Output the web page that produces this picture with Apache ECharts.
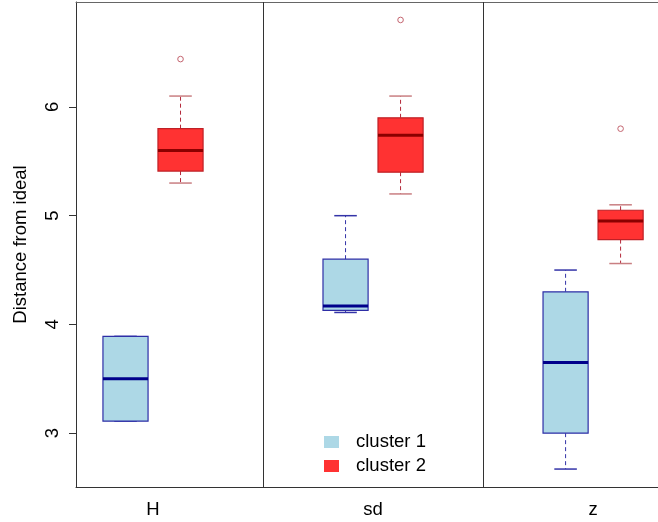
<!DOCTYPE html>
<html>
<head>
<meta charset="utf-8">
<script src="https://cdn.jsdelivr.net/npm/echarts@6/dist/echarts.min.js"></script>
<style>
  html, body { margin: 0; padding: 0; background: #fff; }
  #chart { width: 658px; height: 522px; }
</style>
</head>
<body>
<div id="chart"></div>
<script>
// Measures, one group per measure
const groups = ['H', 'sd', 'z'];
const seriesNames = ['cluster 1', 'cluster 2'];

// Five-number summaries per group: [lower whisker, Q1, median, Q3, upper whisker]
const cluster1Stats = [
  [3.11, 3.11, 3.50, 3.89, 3.89],
  [4.11, 4.13, 4.17, 4.60, 5.00],
  [2.67, 3.00, 3.65, 4.30, 4.50]
];
const cluster2Stats = [
  [5.30, 5.41, 5.60, 5.80, 6.10],
  [5.20, 5.40, 5.74, 5.90, 6.10],
  [4.56, 4.78, 4.95, 5.05, 5.10]
];
// Outlying points of cluster 2, one per group
const cluster2Outliers = [6.44, 6.80, 5.80];

const yTicks = [3, 4, 5, 6];
const yMin = 2.505, yMax = 6.965;
// visible part of the x range (the plot continues past the right edge)
const xMin = 0.1, xMax = 10.68;

// Layout on the x axis: two boxes per group, groups four units apart
const groupStep = 4;
const xPos = (g, s) => 1 + s + g * groupStep;
const groupCenters = groups.map((_, g) => 1.5 + g * groupStep);
const separators = groups.slice(1).map((_, g) => 3.5 + g * groupStep);

const FONT = 'Liberation Sans, Arial, sans-serif';
const FS = 18.5;

const styles = [
  { fill: '#ADD8E6', border: '#2E2EA6', median: '#00008B', whisker: '#3434A8', staple: '#3434A8' },
  { fill: '#FF3232', border: '#BF2026', median: '#8B0000', whisker: '#B4283A', staple: '#C97F82' }
];
const outlierColor = '#C4646F';

function makeRender(s) {
  const st = styles[s];
  return function (params, api) {
    const x = api.value(0);
    const lo = api.value(1), q1 = api.value(2), md = api.value(3), q3 = api.value(4), hi = api.value(5);
    const half = api.size([0.82, 0])[0] / 2;
    const stapleHalf = half / 2;
    const pLo = api.coord([x, lo]), pQ1 = api.coord([x, q1]), pMd = api.coord([x, md]);
    const pQ3 = api.coord([x, q3]), pHi = api.coord([x, hi]);
    const cx = pMd[0];
    const children = [];
    // whiskers (dashed)
    children.push({ type: 'line', shape: { x1: cx, y1: pQ3[1], x2: cx, y2: pHi[1] },
      style: { stroke: st.whisker, lineWidth: 1, lineDash: [4, 3] } });
    children.push({ type: 'line', shape: { x1: cx, y1: pQ1[1], x2: cx, y2: pLo[1] },
      style: { stroke: st.whisker, lineWidth: 1, lineDash: [4, 3] } });
    // staples
    children.push({ type: 'line', shape: { x1: cx - stapleHalf, y1: pHi[1], x2: cx + stapleHalf, y2: pHi[1] },
      style: { stroke: st.staple, lineWidth: 1.5 } });
    children.push({ type: 'line', shape: { x1: cx - stapleHalf, y1: pLo[1], x2: cx + stapleHalf, y2: pLo[1] },
      style: { stroke: st.staple, lineWidth: 1.5 } });
    // box
    children.push({ type: 'rect', shape: { x: cx - half, y: pQ3[1], width: half * 2, height: pQ1[1] - pQ3[1] },
      style: { fill: st.fill, stroke: st.border, lineWidth: 1.2 } });
    // median
    children.push({ type: 'line', shape: { x1: cx - half, y1: pMd[1], x2: cx + half, y2: pMd[1] },
      style: { stroke: st.median, lineWidth: 3 } });
    return { type: 'group', children: children };
  };
}

const boxSeries = [cluster1Stats, cluster2Stats].map((stats, s) => ({
  name: seriesNames[s],
  type: 'custom',
  renderItem: makeRender(s),
  itemStyle: { color: styles[s].fill },
  encode: { x: 0, y: [1, 2, 3, 4, 5] },
  data: stats.map((row, g) => [xPos(g, s)].concat(row)),
  z: 3
}));

const option = {
  animation: false,
  backgroundColor: '#fff',
  textStyle: { fontFamily: FONT },
  grid: { left: 76, right: 0, top: 2, bottom: 35 },
  legend: {
    data: seriesNames,
    orient: 'vertical',
    left: 324,
    top: 432.5,
    padding: 0,
    icon: 'rect',
    itemWidth: 15,
    itemHeight: 12,
    itemGap: 5,
    itemStyle: { borderWidth: 0 },
    textStyle: { fontSize: FS, color: '#000', lineHeight: 18, padding: [0, 0, 0, 12], fontFamily: FONT },
    selectedMode: false
  },
  xAxis: [
    {
      type: 'value',
      min: xMin,
      max: xMax,
      axisLine: { show: true, onZero: false, lineStyle: { color: '#333', width: 1 } },
      axisTick: { show: false },
      splitLine: { show: false },
      axisLabel: {
        customValues: groupCenters,
        formatter: v => groups[Math.round((v - 1.5) / groupStep)],
        fontSize: FS, color: '#000', margin: 13, fontFamily: FONT
      }
    },
    {
      // top frame line
      type: 'value',
      position: 'top',
      min: xMin,
      max: xMax,
      axisLine: { show: true, onZero: false, lineStyle: { color: '#666', width: 1 } },
      axisTick: { show: false },
      axisLabel: { show: false },
      splitLine: { show: false }
    }
  ],
  yAxis: {
    type: 'value',
    min: yMin,
    max: yMax,
    name: 'Distance from ideal',
    nameLocation: 'middle',
    nameGap: 46,
    nameTextStyle: { fontSize: FS, color: '#000', fontFamily: FONT },
    axisLine: { show: true, onZero: false, lineStyle: { color: '#333', width: 1 } },
    axisTick: { show: true, customValues: yTicks, length: 7, lineStyle: { color: '#333' } },
    splitLine: { show: false },
    axisLabel: {
      customValues: yTicks,
      rotate: 90,
      fontSize: FS, color: '#000', margin: 14, fontFamily: FONT
    }
  },
  series: boxSeries.concat([
    {
      name: 'cluster 2 outliers',
      type: 'custom',
      encode: { x: 0, y: 1 },
      data: cluster2Outliers.map((v, g) => [xPos(g, 1), v]),
      renderItem: function (params, api) {
        const p = api.coord([api.value(0), api.value(1)]);
        return { type: 'circle', shape: { cx: p[0], cy: p[1], r: 2.8 },
          style: { fill: 'none', stroke: outlierColor, lineWidth: 1 } };
      },
      z: 4
    },
    {
      name: 'separators',
      type: 'line',
      data: [],
      markLine: {
        silent: true,
        symbol: 'none',
        label: { show: false },
        lineStyle: { color: '#333', width: 1, type: 'solid' },
        data: separators.map(x => ({ xAxis: x }))
      }
    }
  ])
};

const chart = echarts.init(document.getElementById('chart'), null, { renderer: 'canvas' });
chart.setOption(option);
</script>
</body>
</html>
